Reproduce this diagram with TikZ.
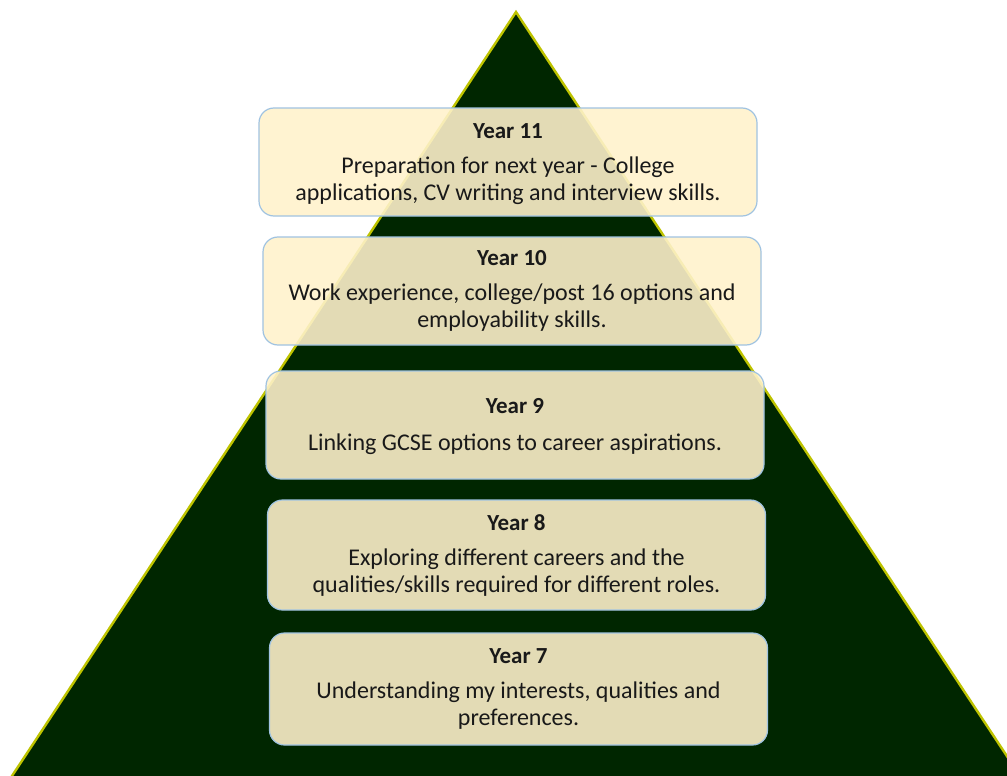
\documentclass[tikz,border=0pt]{standalone}
\usepackage{fontspec}
\setmainfont{Carlito}
\definecolor{pyrgreen}{RGB}{0,38,0}
\definecolor{pyredge}{RGB}{190,195,0}
\definecolor{boxfill}{RGB}{255,242,204}
\definecolor{boxline}{RGB}{160,195,225}
\definecolor{txt}{RGB}{25,25,25}
\tikzset{
  yearbox/.style={draw=boxline, line width=1.2pt, fill=boxfill, fill opacity=0.89, draw opacity=1,
    rounded corners=15pt, minimum width=498pt, inner sep=0pt},
  yeartitle/.style={font=\fontsize{23}{26}\selectfont\bfseries, text=txt, inner sep=0pt},
  yearbody/.style={font=\fontsize{24}{27}\selectfont, text=txt, align=center, inner sep=0pt, text opacity=1}
}
\begin{document}
\begin{tikzpicture}[x=1pt,y=-1pt]
\useasboundingbox (0,0) rectangle (1007,776);
\clip (0,0) rectangle (1007,776);
\fill[white] (0,0) rectangle (1007,776);
% pyramid
\coordinate (apex) at (516,12);
\coordinate (bl) at (8,782);
\coordinate (br) at (1024,782);
\filldraw[fill=pyrgreen, draw=pyredge, line width=2.4pt, line join=miter] (bl) -- (apex) -- (br) -- cycle;
% boxes
\node[yearbox, minimum height=108pt] (y11) at (508,162) {};
\node[yearbox, minimum height=108pt] (y10) at (512,291) {};
\node[yearbox, minimum height=108pt] (y9) at (515,425) {};
\node[yearbox, minimum height=110pt] (y8) at (516.5,555) {};
\node[yearbox, minimum height=112pt] (y7) at (518.5,689) {};
% texts
\node[yeartitle] (t11) at (508,131) {Year 11};
\node[yearbody] (b11) at (508,181) {Preparation for next year - College\\applications, CV writing and interview skills.};
\node[yeartitle] (t10) at (512,258) {Year 10};
\node[yearbody] (b10) at (512,308) {Work experience, college/post 16 options and\\employability skills.};
\node[yeartitle] (t9) at (515,406) {Year 9};
\node[yearbody] (b9) at (515,444) {Linking GCSE options to career aspirations.};
\node[yeartitle] (t8) at (516.5,523) {Year 8};
\node[yearbody] (b8) at (516.5,573) {Exploring different careers and the\\qualities/skills required for different roles.};
\node[yeartitle] (t7) at (518.5,656) {Year 7};
\node[yearbody] (b7) at (518.5,706) {Understanding my interests, qualities and\\preferences.};
\end{tikzpicture}
\end{document}
